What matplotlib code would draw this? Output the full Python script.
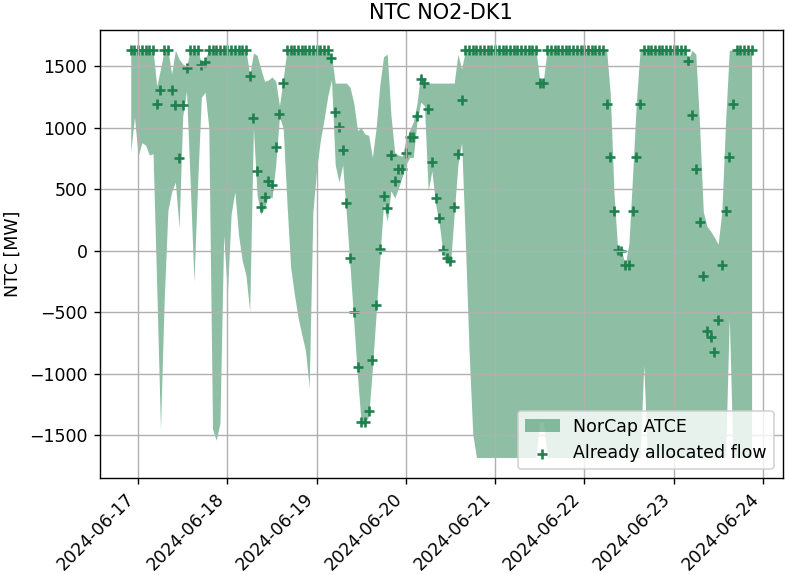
import numpy as np
import pandas as pd
import matplotlib
matplotlib.use('Agg')
import matplotlib.pyplot as plt
import matplotlib.dates as mdates

# hourly data, 2024-06-16 22:00 -> 2024-06-23 21:00
times = pd.date_range('2024-06-16 22:00', '2024-06-23 21:00', freq='h')

# already allocated flow [MW]
flow = [1632, 1632,
        # 06-17
        1632, 1632, 1632, 1632, 1632, 1195, 1305, 1632, 1632, 1305, 1187, 758,
        1185, 1485, 1632, 1632, 1632, 1512, 1535, 1632, 1632, 1632, 1632, 1632,
        # 06-18
        1632, 1632, 1632, 1632, 1632, 1632, 1419, 1085, 654, 360, 438, 568,
        535, 845, 1115, 1368, 1632, 1632, 1632, 1632, 1632, 1632, 1632, 1632,
        # 06-19
        1632, 1632, 1632, 1632, 1567, 1133, 1005, 821, 386, -54, -500, -946,
        -1395, -1395, -1302, -886, -437, 14, 447, 345, 779, 565, 670, 670,
        # 06-20
        797, 927, 927, 1094, 1400, 1365, 1156, 724, 427, 265, 6, -54,
        -81, 357, 792, 1229, 1632, 1632, 1632, 1632, 1632, 1632, 1632, 1632,
        # 06-21
        1632, 1632, 1632, 1632, 1632, 1632, 1632, 1632, 1632, 1632, 1632, 1632,
        1365, 1365, 1632, 1632, 1632, 1632, 1632, 1632, 1632, 1632, 1632, 1632,
        # 06-22
        1632, 1632, 1632, 1632, 1632, 1632, 1195, 760, 324, 6, 0, -116,
        -116, 324, 760, 1195, 1632, 1632, 1632, 1632, 1632, 1632, 1632, 1632,
        # 06-23
        1632, 1632, 1632, 1632, 1543, 1105, 668, 232, -205, -648, -700, -823,
        -563, -115, 324, 760, 1195, 1632, 1632, 1632, 1632, 1632]

# NorCap ATCE upper bound (NO2 -> DK1)
atce_max = [1632, 1632,
            1632, 1632, 1632, 1632, 1632, 1340, 1480, 1632, 1632, 1440, 1632, 1560,
            1520, 1500, 1632, 1632, 1632, 1530, 1560, 1632, 1632, 1632, 1632, 1632,
            1632, 1632, 1632, 1632, 1632, 1632, 1430, 1610, 1590, 1480, 1380, 1390,
            1415, 1380, 1180, 1400, 1632, 1632, 1632, 1632, 1632, 1632, 1632, 1632,
            1632, 1632, 1632, 1632, 1590, 1365, 1365, 1365, 1365, 1330, 1200, 980,
            1000, 950, 940, 760, 1000, 1350, 1580, 1600, 1100, 800, 780, 770,
            900, 980, 1050, 1200, 1450, 1365, 1365, 1365, 1365, 1365, 1365, 1365,
            1365, 1365, 1600, 1480, 1632, 1632, 1632, 1632, 1632, 1632, 1632, 1632,
            1632, 1632, 1632, 1632, 1632, 1632, 1632, 1632, 1632, 1632, 1632, 1632,
            1390, 1390, 1632, 1632, 1632, 1632, 1632, 1632, 1632, 1632, 1632, 1632,
            1632, 1632, 1632, 1632, 1632, 1632, 1632, 1270, 460, 10, 0, -110,
            60, 620, 1210, 1632, 1632, 1632, 1632, 1632, 1632, 1632, 1632, 1632,
            1632, 1632, 1632, 1632, 1560, 1632, 1600, 1030, 320, 200, 160, 110,
            55, 320, 1050, 1632, 1632, 1632, 1632, 1632, 1632, 1632]

# NorCap ATCE lower bound (DK1 -> NO2, negative)
atce_min = [800, 1090,
            770, 880, 860, 780, 790, -300, -1450, -400, 330, 480, 560, 190,
            1100, 1300, 550, -250, 550, 1250, 1290, 1000, -1450, -1540, -1400, 130,
            -350, 300, 480, 130, -80, -200, -490, 1000, 450, 300, 350, 450,
            430, 700, 1090, 1000, 400, -130, -350, -540, -680, -810, -1110, 320,
            660, 900, 1070, 1260, 1390, 700, 560, 700, 300, -130, -580, -1020,
            -1410, -1410, -1340, -960, -510, -60, 380, 240, 490, 430, 510, 600,
            700, 760, 760, 1050, 1210, 1180, 490, 650, 380, 220, -20, -90,
            -110, 300, 700, 880, 80, -810, -1490, -1680, -1680, -1680, -1680, -1680,
            -1680, -1680, -1680, -1680, -1680, -1680, -1680, -1680, -1680, -1680, -1680, -1680,
            -1390, -1390, -1680, -1680, -1680, -1680, -1680, -1680, -1680, -1680, -1680, -1680,
            -1680, -1680, -1680, -1680, -1680, -1680, -1680, -1680, -1680, -1680, -1680, -1680,
            -1680, -1680, -1680, -1680, -930, -1680, -1680, -1680, -1680, -1680, -1680, -1680,
            -1680, -1680, -1680, -1680, -1680, -1680, -1680, -1680, -1680, -1680, -1680, -1680,
            -1680, -1680, -1680, -540, -1680, -1680, -1680, -1680, -1680, -1680]

green = '#1e804d'
DPI = 125

fig, ax = plt.subplots(figsize=(785 / DPI, 575 / DPI), dpi=DPI)
fig.subplots_adjust(left=0.127, right=0.997, bottom=0.169, top=0.948)

ax.fill_between(times, atce_min, atce_max, color=green, alpha=0.5,
                linewidth=0, label='NorCap ATCE')
ax.scatter(times, flow, marker='+', color=green, label='Already allocated flow')

ax.xaxis.set_major_locator(mdates.DayLocator())
ax.xaxis.set_major_formatter(mdates.DateFormatter('%Y-%m-%d'))
plt.setp(ax.get_xticklabels(), rotation=45, ha='right')

ax.set_title('NTC NO2-DK1')
ax.set_ylabel('NTC [MW]')
ax.grid(True)
ax.legend(loc='lower right')

fig.savefig('out.png', dpi=DPI)
